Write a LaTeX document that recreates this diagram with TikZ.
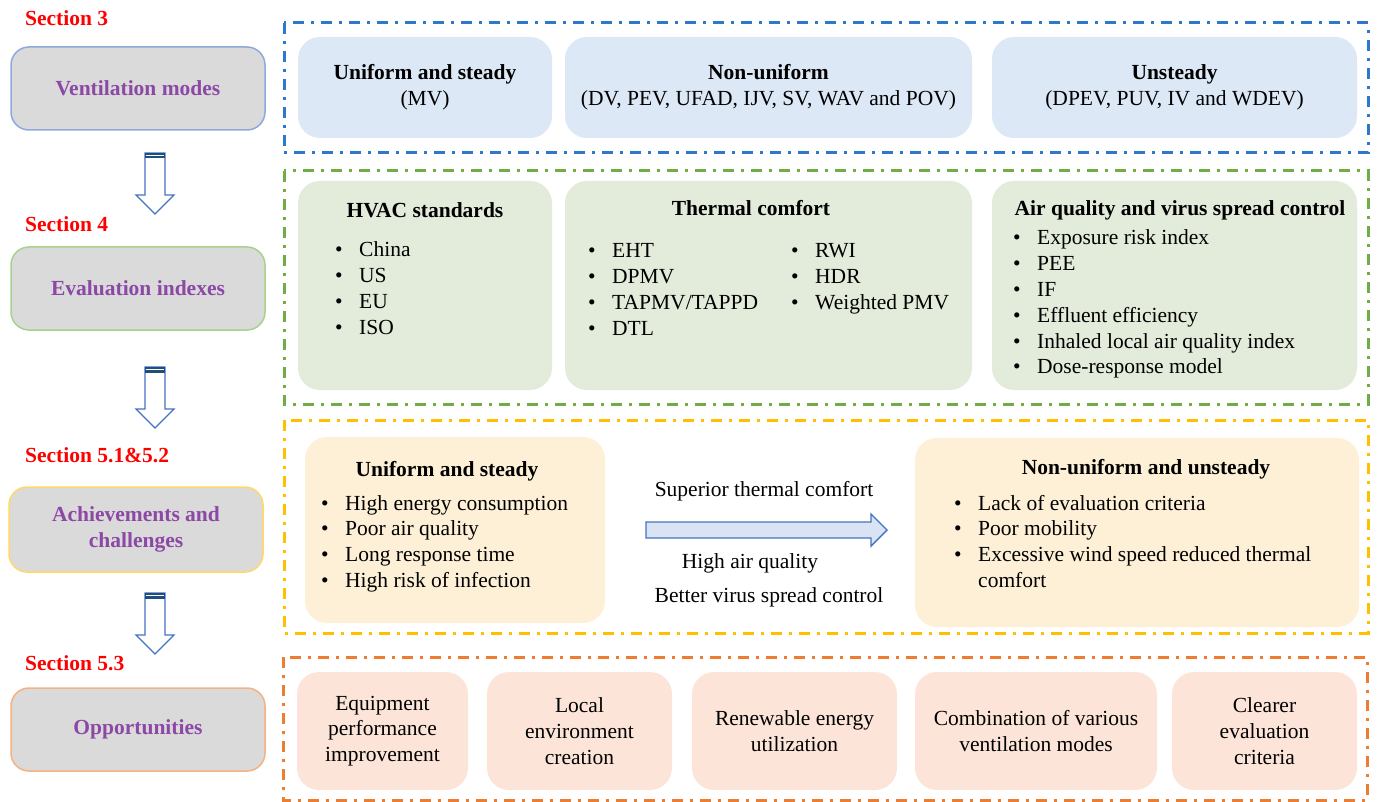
\documentclass[tikz,border=0pt]{standalone}
\usepackage{fontspec}
\setmainfont{Liberation Serif}
\definecolor{fblue}{HTML}{2E78CC}
\definecolor{fgreen}{HTML}{70AD47}
\definecolor{fyellow}{HTML}{FFC000}
\definecolor{forange}{HTML}{ED7D31}
\definecolor{cblue}{HTML}{DCE8F6}
\definecolor{cgreen}{HTML}{E3EBDB}
\definecolor{cyellow}{HTML}{FDF0D6}
\definecolor{corange}{HTML}{FCE5D8}
\definecolor{cgray}{HTML}{DADADA}
\definecolor{gblue}{HTML}{8EA9DB}
\definecolor{ggreen}{HTML}{A9D18E}
\definecolor{gyellow}{HTML}{FFD966}
\definecolor{gorange}{HTML}{F4B183}
\definecolor{purp}{RGB}{140,72,165}
\definecolor{arrowblue}{HTML}{4472C4}
\definecolor{darkband}{HTML}{1F4E79}
\definecolor{arrowfill}{HTML}{DAE3F3}
\newcommand{\blt}{\makebox[24pt][l]{\textbullet}}
\begin{document}
\begin{tikzpicture}[x=1pt,y=-1pt,
  every node/.style={font=\fontsize{21.5}{25.8}\selectfont, inner sep=0pt, text=black},
  frameline/.style={line width=3pt, dash pattern=on 11pt off 7pt on 3pt off 7pt},
  cbox/.style={rectangle, rounded corners=22pt, draw=none, align=center},
  graybox/.style={rectangle, rounded corners=18pt, fill=cgray, line width=1.5pt, align=center,
     minimum width=254pt, minimum height=83pt, font=\fontsize{21.5}{25.8}\selectfont\bfseries, text=purp},
  seclabel/.style={anchor=west, text=red, font=\fontsize{21.5}{25.8}\selectfont\bfseries},
  ttl/.style={font=\fontsize{21.5}{25.8}\selectfont\bfseries},
  lst/.style={anchor=base west, align=left},
  downarrow/.style={draw=arrowblue, fill=white, line width=1.2pt, line join=miter}
]
\useasboundingbox (0,0) rectangle (1381,802);

% ---------- left column ----------
\node[seclabel] (s3) at (25,18) {Section 3};
\node[seclabel] (s4) at (25,224) {Section 4};
\node[seclabel] (s5) at (25,455) {Section 5.1\&5.2};
\node[seclabel] (s53) at (25,663) {Section 5.3};

\node[graybox, draw=gblue] (g1) at (138,88.5) {Ventilation modes};
\node[graybox, draw=ggreen] (g2) at (138,288.5) {Evaluation indexes};
\node[graybox, draw=gyellow, minimum height=85pt] (g3) at (136,529.5) {Achievements and\\challenges};
\node[graybox, draw=gorange] (g4) at (138,729.5) {Opportunities};

\foreach \t in {153,367,593}{
  \draw[downarrow] (145,\t) -- (165,\t) -- (165,\t+42) -- (174,\t+42) -- (155,\t+61)
     -- (136,\t+42) -- (145,\t+42) -- cycle;
  \fill[darkband] (145,\t) rectangle (165,\t+5.5);
  \draw[white, line width=0.8pt] (145.6,\t+2.8) -- (164.4,\t+2.8);
}

% ---------- frames ----------
\draw[frameline, draw=fblue] (284,23) rectangle (1368,153);
\draw[frameline, draw=fgreen] (284,171) rectangle (1368,404);
\draw[frameline, draw=fyellow] (284,420) rectangle (1368,633);
\draw[frameline, draw=forange] (283,657) rectangle (1367,800);

% ---------- row 1 (blue) ----------
\node[cbox, fill=cblue, minimum width=254pt, minimum height=101pt] (b1) at (425,87.5)
  {\textbf{Uniform and steady}\\(MV)};
\node[cbox, fill=cblue, minimum width=407pt, minimum height=101pt] (b2) at (768.5,87.5)
  {\textbf{Non-uniform}\\(DV, PEV, UFAD, IJV, SV, WAV and POV)};
\node[cbox, fill=cblue, minimum width=365pt, minimum height=101pt] (b3) at (1174.5,87.5)
  {\textbf{Unsteady}\\(DPEV, PUV, IV and WDEV)};

% ---------- row 2 (green) ----------
\node[cbox, fill=cgreen, minimum width=254pt, minimum height=209pt] (e1) at (425,285.5) {};
\node[cbox, fill=cgreen, minimum width=407pt, minimum height=209pt] (e2) at (768.5,285.5) {};
\node[cbox, fill=cgreen, minimum width=365pt, minimum height=209pt] (e3) at (1174.5,285.5) {};

\node[ttl] (e1t) at (425,210) {HVAC standards};
\node[lst] (e1l) at (335,257) {\begin{tabular}[t]{@{}l@{}}
\blt China\\ \blt US\\ \blt EU\\ \blt ISO\end{tabular}};

\node[ttl] (e2t) at (751,208) {Thermal comfort};
\node[lst] (e2l) at (588,258) {\begin{tabular}[t]{@{}l@{}}
\blt EHT\\ \blt DPMV\\ \blt TAPMV/TAPPD\\ \blt DTL\end{tabular}};
\node[lst] (e2r) at (791,258) {\begin{tabular}[t]{@{}l@{}}
\blt RWI\\ \blt HDR\\ \blt Weighted PMV\end{tabular}};

\node[ttl] (e3t) at (1180,210) {Air quality and virus spread control};
\node[lst] (e3l) at (1013,245) {\begin{tabular}[t]{@{}l@{}}
\blt Exposure risk index\\ \blt PEE\\ \blt IF\\ \blt Effluent efficiency\\
\blt Inhaled local air quality index\\ \blt Dose-response model\end{tabular}};

% ---------- row 3 (yellow) ----------
\node[cbox, fill=cyellow, minimum width=300pt, minimum height=186pt] (y1) at (455,530) {};
\node[cbox, fill=cyellow, minimum width=444pt, minimum height=189pt] (y2) at (1137,532.5) {};

\node[ttl] (y1t) at (447,471) {Uniform and steady};
\node[lst] (y1l) at (321,510) {\begin{tabular}[t]{@{}l@{}}
\blt High energy consumption\\ \blt Poor air quality\\ \blt Long response time\\
\blt High risk of infection\end{tabular}};

\node[ttl] (y2t) at (1146,469) {Non-uniform and unsteady};
\node[lst] (y2l) at (954,510) {\begin{tabular}[t]{@{}l@{}l@{}}
\blt & Lack of evaluation criteria\\ \blt & Poor mobility\\
\blt & Excessive wind speed reduced thermal\\ & comfort\end{tabular}};

\node (m1) at (764,491) {Superior thermal comfort};
\node (m2) at (750,563) {High air quality};
\node (m3) at (769,597) {Better virus spread control};

\coordinate (ma) at (646,530);
\draw[draw=arrowblue, fill=arrowfill, line width=1.4pt, line join=miter]
  (ma) ++(0,-8) -- ++(225,0) -- ++(0,-8) -- ++(16,16) -- ++(-16,16) -- ++(0,-8) -- ++(-225,0) -- cycle;

% ---------- row 4 (orange) ----------
\node[cbox, fill=corange, minimum width=171pt, minimum height=118pt] (o1) at (382.5,731)
  {Equipment\\performance\\improvement};
\node[cbox, fill=corange, minimum width=185pt, minimum height=118pt] (o2) at (579.5,731)
  {Local\\environment\\creation};
\node[cbox, fill=corange, minimum width=205pt, minimum height=118pt] (o3) at (794.5,731)
  {Renewable energy\\utilization};
\node[cbox, fill=corange, minimum width=242pt, minimum height=118pt] (o4) at (1036,731)
  {Combination of various\\ventilation modes};
\node[cbox, fill=corange, minimum width=185pt, minimum height=118pt] (o5) at (1264.5,731)
  {Clearer\\evaluation\\criteria};
\end{tikzpicture}
\end{document}
